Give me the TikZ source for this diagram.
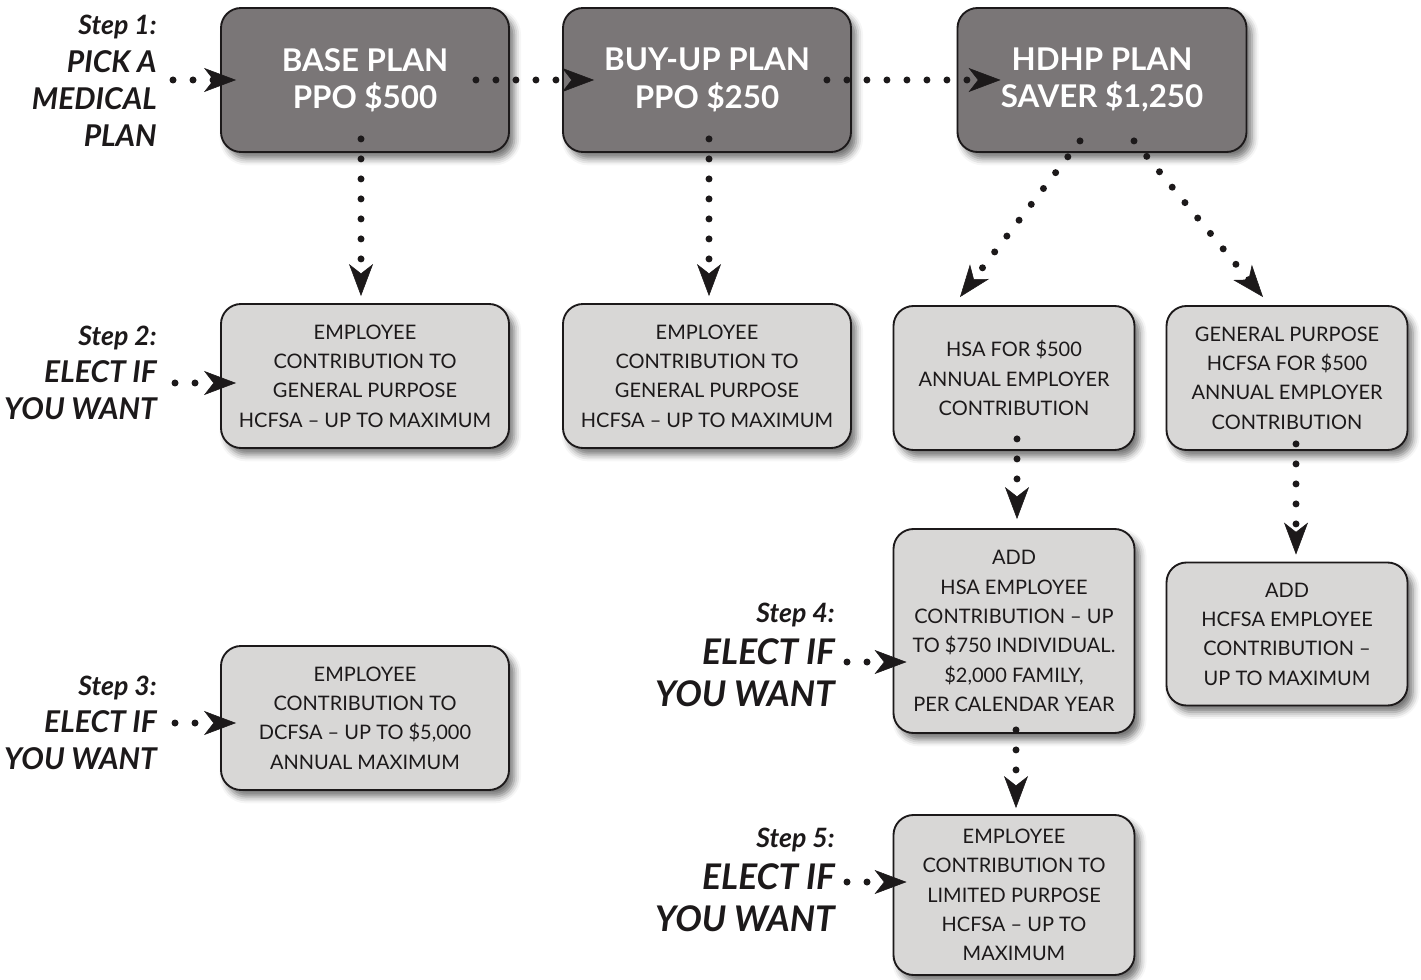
\documentclass[tikz,border=0pt]{standalone}
\usepackage{fontspec}
\setmainfont{Lato}
\usetikzlibrary{arrows.meta,shadows.blur,calc}
\definecolor{plandark}{RGB}{122,118,119}
\definecolor{optlight}{RGB}{216,215,214}
\definecolor{inkdark}{RGB}{28,25,26}
\newcommand{\stepword}[1]{{\fontsize{20}{28}\selectfont #1}}

\begin{document}
\begin{tikzpicture}[x=0.75pt,y=-0.75pt,
  planbox/.style={draw=inkdark, line width=1.4pt, rounded corners=15pt, fill=plandark, text=white,
    font=\bfseries\fontsize{23.5}{28}\selectfont, align=center, inner sep=0pt,
    minimum width=216pt, minimum height=108pt,
    blur shadow={shadow xshift=4pt, shadow yshift=-5pt, shadow blur radius=5pt, shadow opacity=55}},
  optbox/.style={planbox, fill=optlight, text=inkdark, font=\fontsize{15}{22}\selectfont},
  steplbl/.style={anchor=east, align=right, inner sep=0pt, text=inkdark,
    font=\bfseries\itshape\fontsize{22.5}{28}\selectfont},
  bigstep/.style={steplbl, font=\bfseries\itshape\fontsize{26.5}{31.5}\selectfont},
  flow/.style={draw=inkdark, line width=5.25pt, line cap=round, dash pattern=on 0pt off 15pt,
    -{Stealth[length=24pt, width=18pt, inset=7pt, line width=0.4pt]}}]
\useasboundingbox (0,0) rectangle (1421,980);

%Shape: Medical plans
\node[planbox] (base) at (365,80) {BASE PLAN\\PPO \$500};
\node[planbox] (buyup) at (707,80) {BUY-UP PLAN\\PPO \$250};
\node[planbox, minimum width=216.75pt] (hdhp) at (1102,80) {HDHP PLAN\\SAVER \$1,250};

%Shape: Options
\node[optbox] (ee1) at (365,376) {EMPLOYEE\\CONTRIBUTION TO\\GENERAL PURPOSE\\HCFSA -- UP TO MAXIMUM};
\node[optbox] (ee2) at (707,376) {EMPLOYEE\\CONTRIBUTION TO\\GENERAL PURPOSE\\HCFSA -- UP TO MAXIMUM};
\node[optbox, minimum width=180.75pt] (hsa) at (1014,378) {HSA FOR \$500\\ANNUAL EMPLOYER\\CONTRIBUTION};
\node[optbox, minimum width=180.75pt] (gp) at (1287,378) {GENERAL PURPOSE\\HCFSA FOR \$500\\ANNUAL EMPLOYER\\CONTRIBUTION};
\node[optbox, minimum width=180.75pt, minimum height=153pt] (addhsa) at (1014,631) {ADD\\HSA EMPLOYEE\\CONTRIBUTION -- UP\\TO \$750 INDIVIDUAL.\\\$2,000 FAMILY,\\PER CALENDAR YEAR};
\node[optbox, minimum width=180.75pt, minimum height=107.25pt] (addfsa) at (1287,634) {ADD\\HCFSA EMPLOYEE\\CONTRIBUTION --\\UP TO MAXIMUM};
\node[optbox] (dc) at (365,718) {EMPLOYEE\\CONTRIBUTION TO\\DCFSA -- UP TO \$5,000\\ANNUAL MAXIMUM};
\node[optbox, minimum width=180.75pt, minimum height=120pt] (lp) at (1014,895) {EMPLOYEE\\CONTRIBUTION TO\\LIMITED PURPOSE\\HCFSA -- UP TO\\MAXIMUM};

% Text Node
\node[steplbl] (s1) at (157,81) {\stepword{Step 1:}\\PICK A\\MEDICAL\\PLAN};
\node[steplbl] (s2) at (157,373) {\stepword{Step 2:}\\ELECT IF\\YOU WANT};
\node[steplbl] (s3) at (157,723) {\stepword{Step 3:}\\ELECT IF\\YOU WANT};
\node[bigstep] (s4) at (835,655) {\stepword{Step 4:}\\ELECT IF\\YOU WANT};
\node[bigstep] (s5) at (835,880) {\stepword{Step 5:}\\ELECT IF\\YOU WANT};

%Straight Lines
\draw[flow] ($(s1.east |- base.west)+(16,0)$) -- ($(base.west)+(16,0)$);
\draw[flow] ($(base.east)+(-34,0)$) -- ($(buyup.west)+(32,0)$);
\draw[flow] ($(buyup.east)+(-25,0)$) -- ($(hdhp.west)+(44,0)$);
\draw[flow] ($(base.south)+(-4,-14)$) -- ($(ee1.north)+(-4,-7)$);
\draw[flow] ($(buyup.south)+(2,-14)$) -- ($(ee2.north)+(2,-7)$);
\draw[flow] ($(hdhp.south)+(-22,-12)$) -- ($(hsa.north)+(-54,-8)$);
\draw[flow] ($(hdhp.south)+(32,-12)$) -- ($(gp.north)+(-24,-8)$);
\draw[flow] ($(hsa.south)+(3,-12)$) -- ($(addhsa.north)+(3,-9)$);
\draw[flow] ($(gp.south)+(9,-7)$) -- ($(addfsa.north)+(9,-7)$);
\draw[flow] ($(addhsa.south)+(2,-4)$) -- ($(lp.north)+(2,-6)$);
\draw[flow] ($(s2.east)+(18,10)$) -- ($(ee1.west)+(16,7)$);
\draw[flow] ($(s3.east)+(18,0)$) -- ($(dc.west)+(16,5)$);
\draw[flow] ($(s4.east)+(12,7)$) -- ($(addhsa.west)+(14,31)$);
\draw[flow] ($(s5.east)+(12,2)$) -- ($(lp.west)+(14,-13)$);

\end{tikzpicture}
\end{document}
